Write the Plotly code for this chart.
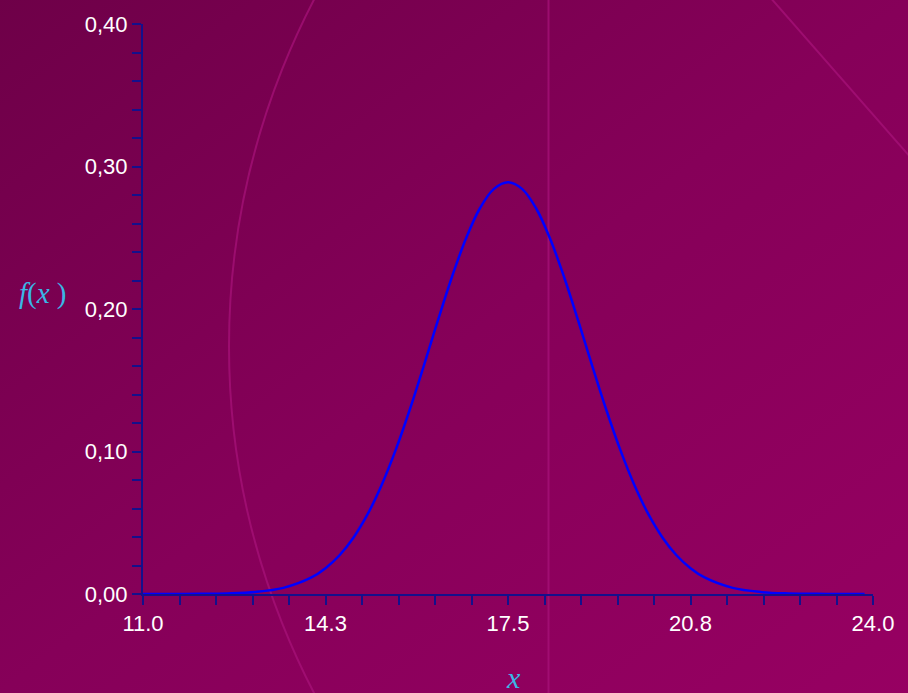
import base64
import plotly.graph_objects as go

# ---- data ----
x_vals = [11.0, 11.5, 12.0, 12.5, 13.0, 13.5, 14.0, 14.25, 14.5, 14.75, 15.0, 15.25, 15.5, 15.75,
          16.0, 16.25, 16.5, 16.75, 17.0, 17.25, 17.5, 17.75, 18.0, 18.25, 18.5, 18.75, 19.0,
          19.25, 19.5, 19.75, 20.0, 20.25, 20.5, 20.75, 21.0, 21.5, 22.0, 22.5, 23.0, 23.5, 23.85]
f_vals = [0.0000, 0.0000, 0.0001, 0.0004, 0.0014, 0.0043, 0.0116, 0.0181, 0.0272, 0.0397, 0.0560, 0.0765, 0.1011, 0.1293,
          0.1601, 0.1918, 0.2223, 0.2493, 0.2707, 0.2843, 0.2890, 0.2843, 0.2707, 0.2493, 0.2223, 0.1918, 0.1601,
          0.1293, 0.1011, 0.0765, 0.0560, 0.0397, 0.0272, 0.0181, 0.0116, 0.0043, 0.0014, 0.0004, 0.0001, 0.0000, 0.0000]

x_tick_vals = [11.0, 14.25, 17.5, 20.75, 24.0]
x_tick_text = ["11.0", "14.3", "17.5", "20.8", "24.0"]
x_minor_vals = [11.0 + 0.65 * i for i in range(21)]
y_tick_vals = [0.0, 0.1, 0.2, 0.3, 0.4]
y_tick_text = ["0,00", "0,10", "0,20", "0,30", "0,40"]
y_minor_vals = [0.02 * i for i in range(21)]

W, H = 908, 693
ML, MR, MT, MB = 143, 35, 21, 99
PW, PH = W - ML - MR, H - MT - MB
PAD = 6  # background image overhang in px

deco = "stroke='#a8127a' stroke-opacity='0.7' stroke-width='2'"
svg = f"""<svg xmlns='http://www.w3.org/2000/svg' width='{W + 2 * PAD}' height='{H + 2 * PAD}' viewBox='{-PAD} {-PAD} {W + 2 * PAD} {H + 2 * PAD}'>
<defs><linearGradient id='g' x1='0' y1='0' x2='1' y2='1'>
<stop offset='0' stop-color='#6e0048'/><stop offset='0.5' stop-color='#860059'/><stop offset='1' stop-color='#970062'/>
</linearGradient></defs>
<rect x='{-PAD}' y='{-PAD}' width='{W + 2 * PAD}' height='{H + 2 * PAD}' fill='url(#g)'/>
<circle cx='985' cy='345' r='756' fill='none' {deco}/>
<line x1='548.5' y1='{-PAD}' x2='548.5' y2='{H + PAD}' {deco}/>
<line x1='770' y1='-6' x2='914' y2='159' {deco}/>
</svg>"""
bg_src = "data:image/svg+xml;base64," + base64.b64encode(svg.encode()).decode()

axis_col = "#14108c"

fig = go.Figure()
fig.add_trace(go.Scatter(x=x_vals, y=f_vals, mode="lines",
                         line=dict(color="#0000ff", width=2.5, shape="spline", smoothing=1.0),
                         hoverinfo="skip", showlegend=False))

tick_font = dict(family="Liberation Sans, Arial", size=22, color="white")

fig.update_layout(
    width=W, height=H,
    margin=dict(l=ML, r=MR, t=MT, b=MB),
    paper_bgcolor="#7c0050",
    plot_bgcolor="rgba(0,0,0,0)",
    images=[dict(source=bg_src, xref="paper", yref="paper",
                 x=-(ML + PAD) / PW, y=1 + (MT + PAD) / PH,
                 sizex=(W + 2 * PAD) / PW, sizey=(H + 2 * PAD) / PH,
                 xanchor="left", yanchor="top", sizing="stretch", layer="below")],
    xaxis=dict(range=[11, 24], showgrid=False, zeroline=False, showline=True,
               linecolor=axis_col, linewidth=2, ticks="outside", ticklen=9, tickwidth=2,
               tickcolor=axis_col, tickvals=x_tick_vals, ticktext=x_tick_text,
               tickfont=tick_font,
               minor=dict(tickvals=x_minor_vals, ticks="outside", ticklen=9, tickwidth=2, tickcolor=axis_col)),
    yaxis=dict(range=[0, 0.4], showgrid=False, zeroline=False, showline=True,
               linecolor=axis_col, linewidth=2, ticks="outside", ticklen=9, tickwidth=2,
               tickcolor=axis_col, tickvals=y_tick_vals, ticktext=y_tick_text,
               tickfont=tick_font,
               minor=dict(tickvals=y_minor_vals, ticks="outside", ticklen=9, tickwidth=2, tickcolor=axis_col)),
    annotations=[
        dict(text="<i>f</i>(<i>x</i> )", xref="paper", yref="paper", x=(43 - ML) / PW, y=(H - MB - 292) / PH,
             xanchor="center", yanchor="middle", showarrow=False,
             font=dict(family="Liberation Serif, Times New Roman", size=29, color="#3ab6e6")),
        dict(text="<i>x</i>", xref="paper", yref="paper", x=(513 - ML) / PW, y=(H - MB - 678) / PH,
             xanchor="center", yanchor="middle", showarrow=False,
             font=dict(family="Liberation Serif, Times New Roman", size=30, color="#3ab6e6")),
    ],
)

fig.write_html("out.html", config={"displayModeBar": False, "staticPlot": True},
               post_script="document.body.style.margin='0';document.body.style.overflow='hidden';")
